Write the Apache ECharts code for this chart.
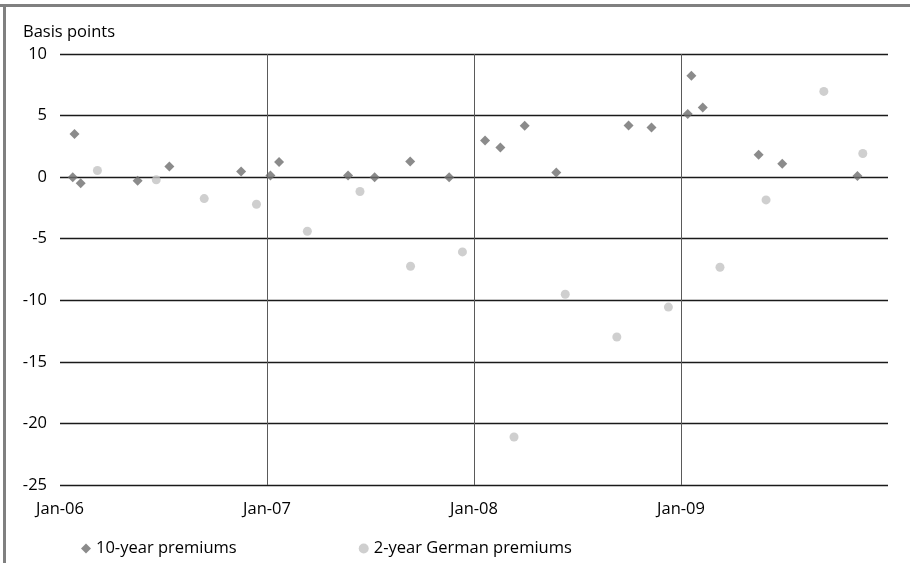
<!DOCTYPE html>
<html>
<head>
<meta charset="utf-8">
<script src="https://cdn.jsdelivr.net/npm/echarts@6/dist/echarts.min.js"></script>
<style>
html,body{margin:0;padding:0;background:#fff;}
#chart{width:910px;height:563px;}
</style>
</head>
<body>
<div id="chart"></div>
<script>
// Months since Jan-2006
const tenYearMonths = [0.74, 0.84, 1.2, 4.5, 6.34, 10.5, 12.2, 12.7, 16.7, 18.24, 20.3, 22.56, 24.64, 25.53, 26.94, 28.77, 32.96, 34.29, 36.39, 36.6, 37.26, 40.5, 41.87, 46.23];
const tenYearValues = [0.0, 3.5, -0.5, -0.3, 0.86, 0.46, 0.13, 1.22, 0.13, 0.0, 1.27, 0.0, 2.98, 2.4, 4.17, 0.37, 4.2, 4.03, 5.12, 8.24, 5.66, 1.81, 1.08, 0.1];
const germanMonths = [2.17, 5.58, 8.36, 11.39, 14.34, 17.39, 20.32, 23.33, 26.32, 29.29, 32.28, 35.27, 38.26, 40.93, 44.28, 46.54];
const germanValues = [0.54, -0.22, -1.74, -2.2, -4.39, -1.17, -7.24, -6.07, -21.1, -9.51, -12.98, -10.55, -7.32, -1.85, 6.96, 1.92];
const xTickLabels = ['Jan-06', 'Jan-07', 'Jan-08', 'Jan-09', ''];
const seriesNames = ['10-year premiums', '2-year German premiums'];
const yAxisTitle = 'Basis points';

const FONT = '"Open Sans", "Noto Sans", sans-serif';
const FS = 16.5;
const chart = echarts.init(document.getElementById('chart'), null, {renderer: 'canvas'});
chart.setOption({
  animation: false,
  backgroundColor: '#ffffff',
  textStyle: {fontFamily: FONT},
  title: {
    text: yAxisTitle,
    left: 18, top: 19,
    textStyle: {fontFamily: FONT, fontSize: FS, fontWeight: 'normal', color: '#000'}
  },
  graphic: [
    {type: 'rect', shape: {x: 0, y: 4, width: 910, height: 3}, style: {fill: '#808080'}, silent: true},
    {type: 'rect', shape: {x: 3, y: 4, width: 3, height: 559}, style: {fill: '#808080'}, silent: true}
  ],
  legend: {
    left: 76, top: 535,
    itemGap: 122,
    itemWidth: 10, itemHeight: 10,
    textStyle: {fontFamily: FONT, fontSize: FS, color: '#000'},
    data: [
      {name: seriesNames[0], icon: 'diamond', itemStyle: {color: '#6e6e6e'}},
      {name: seriesNames[1], icon: 'circle', itemStyle: {color: '#c3c3c3'}}
    ]
  },
  grid: {left: 60, right: 22, top: 54, bottom: 78, containLabel: false},
  xAxis: {
    type: 'value', min: 0, max: 48, interval: 12,
    axisLine: {show: false}, axisTick: {show: false},
    axisLabel: {
      margin: 16, fontSize: FS, color: '#000', fontFamily: FONT,
      formatter: v => xTickLabels[Math.round(v / 12)] || ''
    },
    splitLine: {show: true, showMinLine: false, showMaxLine: false, lineStyle: {color: '#5a5a5a', width: 1}}
  },
  yAxis: {
    type: 'value', min: -25, max: 10, interval: 5,
    axisLine: {show: false}, axisTick: {show: false},
    axisLabel: {margin: 13, fontSize: FS, color: '#000', fontFamily: FONT},
    splitLine: {show: true, lineStyle: {color: '#1a1a1a', width: 1.3}}
  },
  series: [
    {
      name: seriesNames[0], type: 'scatter', symbol: 'diamond', symbolSize: 10,
      itemStyle: {color: '#6e6e6e'}, z: 3,
      data: tenYearMonths.map((m, i) => [m, tenYearValues[i]])
    },
    {
      name: seriesNames[1], type: 'scatter', symbol: 'circle', symbolSize: 9,
      itemStyle: {color: '#c3c3c3'}, z: 2,
      data: germanMonths.map((m, i) => [m, germanValues[i]])
    }
  ]
});
</script>
</body>
</html>
